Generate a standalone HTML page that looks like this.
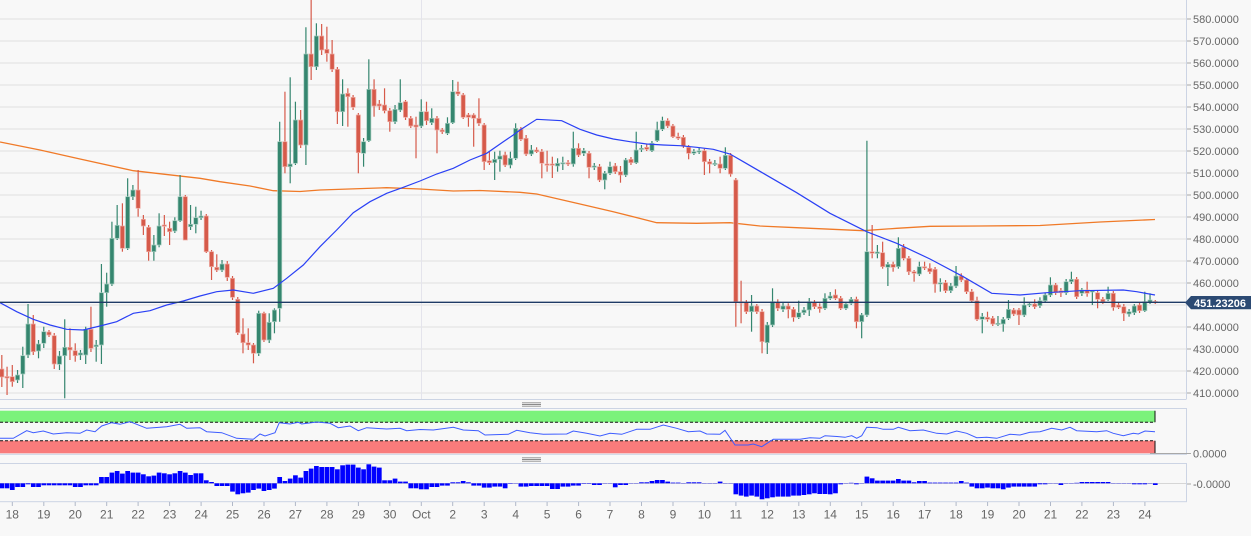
<!DOCTYPE html>
<html><head><meta charset="utf-8">
<style>
html,body{margin:0;padding:0;background:#f8f8f8;width:1251px;height:536px;overflow:hidden}
svg{display:block}
text{font-family:"Liberation Sans",sans-serif}
</style></head><body>
<svg id="c" width="1251" height="536" viewBox="0 0 1251 536" xmlns="http://www.w3.org/2000/svg">
<rect width="1251" height="536" fill="#f8f8f8"/>
<g stroke="#e1e1e1" stroke-width="1">
<line x1="0" x2="1186" y1="19" y2="19"/><line x1="0" x2="1186" y1="41" y2="41"/><line x1="0" x2="1186" y1="63" y2="63"/><line x1="0" x2="1186" y1="85" y2="85"/><line x1="0" x2="1186" y1="107" y2="107"/><line x1="0" x2="1186" y1="129" y2="129"/><line x1="0" x2="1186" y1="151" y2="151"/><line x1="0" x2="1186" y1="173" y2="173"/><line x1="0" x2="1186" y1="195" y2="195"/><line x1="0" x2="1186" y1="217" y2="217"/><line x1="0" x2="1186" y1="239" y2="239"/><line x1="0" x2="1186" y1="261" y2="261"/><line x1="0" x2="1186" y1="283" y2="283"/><line x1="0" x2="1186" y1="305" y2="305"/><line x1="0" x2="1186" y1="327" y2="327"/><line x1="0" x2="1186" y1="349" y2="349"/><line x1="0" x2="1186" y1="371" y2="371"/><line x1="0" x2="1186" y1="393" y2="393"/>
</g>
<line x1="421.5" x2="421.5" y1="0" y2="399" stroke="#e4e4ec" stroke-width="1"/>
<!-- panel borders -->
<g stroke="#ccd4e4" stroke-width="1" fill="none">
<line x1="1186.5" x2="1186.5" y1="0" y2="399"/>
<line x1="0" x2="1186.5" y1="399.5" y2="399.5"/>
<rect x="-1" y="408.5" width="1187.5" height="45.8"/>
<rect x="-1" y="463.5" width="1187.5" height="38.2"/>
</g>
<!-- handles -->
<g stroke="#8a8a8a" stroke-width="0.9">
<line x1="522" x2="541" y1="402.8" y2="402.8"/><line x1="522" x2="541" y1="404.5" y2="404.5"/><line x1="522" x2="541" y1="406.2" y2="406.2"/>
<line x1="522" x2="541" y1="457.8" y2="457.8"/><line x1="522" x2="541" y1="459.5" y2="459.5"/><line x1="522" x2="541" y1="461.2" y2="461.2"/>
</g>
<!-- oscillator bands -->
<rect x="0" y="410.7" width="1155" height="11.6" fill="#7bf27b"/>
<rect x="0" y="440.7" width="1155" height="12.6" fill="#f97b7b"/>
<line x1="1155" x2="1155" y1="410.7" y2="422.3" stroke="#111" stroke-width="1"/>
<line x1="1155" x2="1155" y1="440.7" y2="453.3" stroke="#111" stroke-width="1"/>
<line x1="0" x2="1155" y1="422.3" y2="422.3" stroke="#111" stroke-width="1" stroke-dasharray="3,2"/>
<line x1="0" x2="1155" y1="440.7" y2="440.7" stroke="#111" stroke-width="1" stroke-dasharray="3,2"/>
<polyline fill="none" stroke="#3d5cff" stroke-width="1" points="0,438.3 13.3,438.3 26.7,430.7 33.3,432.7 43.3,431 53.3,434 66.7,432.7 80,433.3 86.7,430 95,431.7 101.7,426 111.7,422.7 120,424.3 130,421.7 146.7,428.3 166.7,426.7 180,424.3 186.7,428.3 200,427.7 206.7,431.7 221.7,432.7 236.7,438.3 253.3,439.3 260,434 265,436 275,432.7 279.3,422.7 290,424 298.3,422.3 301.7,424 316.7,422 330,423.3 338.3,427.7 350,426 358.3,430.7 366.7,427.7 386.7,429 400,428.3 406.7,430.7 420,429.5 433.3,430 453.3,427.3 463.3,430 478.3,430.7 485,435 508.3,434.3 516.7,430.3 530,432.7 543.3,434.3 566.7,434 573.3,431 586.7,433.3 600,436 610,433.3 621.7,434.3 636.7,429.3 650,429.3 663.3,425 676.7,428.3 688.3,431.7 700,431 706.7,434 720,434.3 725,430.3 735,445 748.3,445 753.3,444 761.7,446.7 773.3,439.3 800,439.3 810,437.7 820,438.3 825,435.7 837,436.5 845,437.3 851.7,435.7 856.7,438.3 861.7,435.7 866.7,427.3 876.7,427.7 883.3,429.3 893.3,429.3 898.3,427.3 910,430.7 923.3,430 936.7,433.3 946.7,434 956.7,431 966.7,433.3 976.7,437.7 986.7,437.3 996.7,438.3 1010,434.3 1020,435 1030,432.3 1040,431.7 1051.7,428.3 1061.7,430 1070,427.3 1076.7,430.7 1096.7,431.7 1106.7,430.7 1113.3,433.3 1123.3,435.7 1133.3,433.3 1138.3,434 1145,431 1155,431.7"/>
<!-- histogram baseline -->
<line x1="0" x2="1186" y1="483.5" y2="483.5" stroke="#d6d6d6" stroke-width="1"/>
<g id="hist"></g>
<!-- MAs -->
<polyline fill="none" stroke="#f07a28" stroke-width="1.3" points="0,142 40,150 80,159 133.3,170.7 200,178.3 220,181.7 250,186 273.3,190.7 300,191.5 320,190 386.7,187.7 420,189 453.3,191 480,190.5 520,192.3 536.7,194 580,204 613.3,211.7 656.7,222.7 696.7,223.3 730,222.7 760,226 796.7,227.7 863.3,230.7 896.7,228.3 930,226.3 980,226 1040,225.5 1100,222 1155,219.5"/>
<g id="candles"></g>
<polyline fill="none" stroke="#2a40f5" stroke-width="1.2" points="0,302.7 16.7,311.7 33.3,319.3 50,325 66.7,329.3 83.3,330 100,326 116.7,321.7 133.3,313.3 150,310.7 166.7,305 183.3,301 200,296 216.7,291.7 233.3,290 253.3,293.3 273.3,288.3 286.7,278.3 303.3,265 320,246.7 336.7,230 353.3,212.7 370,201.7 386.7,193.3 403.3,187.3 420,181 436.7,174 453.3,168.3 470,160 486.7,153.3 503.3,141.7 513.3,135 520,130 536.7,119.3 561.7,120.7 580,129.3 596.7,135 613.3,139 630,141.7 646.7,144 663.3,145 680,145.7 696.7,147.3 713.3,149.3 730,154 743.3,161.7 763.3,173.3 796.7,192.7 830,213.3 866.7,231.7 896.7,243.3 930,259 963.3,276.7 991.7,293.3 1020,295 1046.7,292.7 1080,290.7 1123.3,290 1136.7,291.7 1155,295"/>
<!-- current price line -->
<line x1="0" x2="1190" y1="302.3" y2="302.3" stroke="#1f3b66" stroke-width="1.4"/>
<path d="M1185,302.6 L1191,296 L1251,296 L1251,309.3 L1191,309.3 Z" fill="#2c4a73"/>
<text x="1194" y="306.8" font-size="11" font-weight="bold" fill="#ffffff">451.23206</text>
<!-- right axis ticks -->
<g stroke="#a8a8a8" stroke-width="1">
<line x1="1187" x2="1191" y1="19" y2="19"/><line x1="1187" x2="1191" y1="41" y2="41"/><line x1="1187" x2="1191" y1="63" y2="63"/><line x1="1187" x2="1191" y1="85" y2="85"/><line x1="1187" x2="1191" y1="107" y2="107"/><line x1="1187" x2="1191" y1="129" y2="129"/><line x1="1187" x2="1191" y1="151" y2="151"/><line x1="1187" x2="1191" y1="173" y2="173"/><line x1="1187" x2="1191" y1="195" y2="195"/><line x1="1187" x2="1191" y1="217" y2="217"/><line x1="1187" x2="1191" y1="239" y2="239"/><line x1="1187" x2="1191" y1="261" y2="261"/><line x1="1187" x2="1191" y1="283" y2="283"/><line x1="1187" x2="1191" y1="327" y2="327"/><line x1="1187" x2="1191" y1="349" y2="349"/><line x1="1187" x2="1191" y1="371" y2="371"/><line x1="1187" x2="1191" y1="393" y2="393"/>
<line x1="1150" x2="1191" y1="453.5" y2="453.5"/><line x1="1187" x2="1191" y1="484" y2="484"/>
</g>
<g font-size="11" fill="#666">
<text x="1193" y="23">580.0000</text><text x="1193" y="45">570.0000</text><text x="1193" y="67">560.0000</text><text x="1193" y="89">550.0000</text><text x="1193" y="111">540.0000</text><text x="1193" y="133">530.0000</text><text x="1193" y="155">520.0000</text><text x="1193" y="177">510.0000</text><text x="1193" y="199">500.0000</text><text x="1193" y="221">490.0000</text><text x="1193" y="243">480.0000</text><text x="1193" y="265">470.0000</text><text x="1193" y="287">460.0000</text><text x="1193" y="331">440.0000</text><text x="1193" y="353">430.0000</text><text x="1193" y="375">420.0000</text><text x="1193" y="397">410.0000</text>
<text x="1193" y="457.5">0.0000</text><text x="1193" y="488">-0.0000</text>
</g>
<!-- date ticks -->
<g id="dticks" stroke="#b0b8c8" stroke-width="1"></g>
<g font-size="12" fill="#666" text-anchor="middle">
<text x="12.3" y="518.5">18</text><text x="43.8" y="518.5">19</text><text x="75.2" y="518.5">20</text><text x="106.7" y="518.5">21</text><text x="138.1" y="518.5">22</text><text x="169.6" y="518.5">23</text><text x="201.1" y="518.5">24</text><text x="232.5" y="518.5">25</text><text x="264" y="518.5">26</text><text x="295.4" y="518.5">27</text><text x="326.9" y="518.5">28</text><text x="358.4" y="518.5">29</text><text x="389.8" y="518.5">30</text><text x="421.3" y="518.5">Oct</text><text x="452.7" y="518.5">2</text><text x="484.2" y="518.5">3</text><text x="515.7" y="518.5">4</text><text x="547.1" y="518.5">5</text><text x="578.6" y="518.5">6</text><text x="610" y="518.5">7</text><text x="641.5" y="518.5">8</text><text x="673" y="518.5">9</text><text x="704.4" y="518.5">10</text><text x="735.9" y="518.5">11</text><text x="767.3" y="518.5">12</text><text x="798.8" y="518.5">13</text><text x="830.3" y="518.5">14</text><text x="861.7" y="518.5">15</text><text x="893.2" y="518.5">16</text><text x="924.6" y="518.5">17</text><text x="956.1" y="518.5">18</text><text x="987.6" y="518.5">19</text><text x="1019" y="518.5">20</text><text x="1050.5" y="518.5">21</text><text x="1081.9" y="518.5">22</text><text x="1113.4" y="518.5">23</text><text x="1144.9" y="518.5">24</text>
</g>
</svg>
<script>
(function(){
var D="r,369,377,355,387|r,376.5,378,366.7,395|r,376.7,381.7,365,386.7|g,375,380,370,383|g,355.7,374,346.7,388|g,324,355,304,358|r,324,351.7,315,355|g,344,351,340,358.3|g,331.7,343.3,326.7,348|r,332,335,330,337|r,335.7,364,333,369|g,356,364.3,351,370|g,347.3,355.7,319.3,398.3|r,347.3,350,328.3,360|r,350.7,355.7,343.3,361.7|g,353,355,350,360|g,329.3,355,326.7,364|r,329.3,348.3,306.7,352|g,345,346.7,340,361.7|g,292.7,345,264,364|g,284,292.7,272.7,306.7|g,238.3,284,221.7,286|g,225.3,238.3,205,240|r,226,248.3,203.3,251.7|g,196.7,248.3,178.3,250|g,190,196.7,185,200|r,190,208.3,170,216.7|r,219.3,226,215,235|r,227.3,251.7,225,260.7|g,245,251.7,235,260.7|g,226,245,213.3,247.3|r,225,226.3,215,236|r,228.3,231.7,221.7,245|g,220.7,231,217.3,233|g,196.7,220.7,175,222|r,196.7,240,195,240|g,224.3,226.7,205,230|g,217.7,224.3,206.7,233.3|g,216,217.7,210.7,220|r,216,251.7,214,253|r,251.7,266.7,250,280|r,267.3,270,254.3,272|g,264,270,260,272|r,264,277.3,261,281|r,278.3,297.3,276,300|r,299.3,332.7,297,335|r,334,342.7,318.3,353.3|r,342.7,345,328.3,350|r,345,353.3,343,363.3|g,313.3,353.3,310.7,356|r,313.3,340,311.7,342|g,322.3,340,313.3,343|g,310,321.7,308.3,333.3|g,141.7,308.3,121.7,321.7|r,141.7,166.7,91.7,173.3|g,164,166.7,77.3,183.3|g,120,163.3,101.7,165|r,120,145,110,148|g,54,145,27.3,165|r,54,66.7,0,80|g,36,66.7,23.3,70|r,36,50,24,55|r,49.3,53.3,26.7,61.7|r,54,69.3,40,72|r,69.3,111.7,67,124|g,94,111.7,79.3,126|r,93.3,96.7,88.3,126.7|r,97.3,107.3,95,110|r,115,152.7,113,173.3|g,141.7,153.3,138,166.7|g,89.3,140.7,59.3,142|r,89.3,106,79.3,116.7|r,104,106,100,110|r,105,110.7,88.3,113.3|r,110.7,121.7,108,131.7|g,109.3,121.7,105,124|g,102.7,110,79.3,112|r,101.7,117.3,100,120|r,118.3,126,116,128|r,125,127,116.7,158.3|g,111.7,126,99.3,128|r,111.7,120.7,101.7,125|g,118.3,122.7,108.3,125|r,118.3,130,116,153.3|r,130,131.7,128,134|g,123.3,133.3,117.3,135|g,91.7,122.7,80,124|r,91.7,94,81.7,96|r,95,117.3,93,119|r,115,117.3,113,126.7|r,115,118.3,113.3,146.7|r,118.3,123.3,98.3,126|r,125,161.7,123,170|r,160.7,162.7,151.7,165|g,159.3,162.7,151.7,180|g,156,159.3,150.7,171.7|r,155,165,151.7,167|g,158.3,165,151.7,168.3|g,128.3,158.3,123.3,160|r,129.3,139.3,127,141|r,138.3,154,135,156|g,150,154,145,156|r,150,151.7,147.3,153|r,151.7,163.3,149,178.3|r,164,165.3,150.7,171.7|r,164,165.3,156.7,178|g,163.3,166,158.3,171.7|g,162.7,163.7,156.7,170|r,162.7,164,160,166|g,148.3,164,131.7,166.7|r,148.3,155,143.3,157|g,150.7,153.3,148,156|r,153.3,167.3,151,178.3|g,166,167.3,163,170|r,166.7,180,164,182|g,173.3,180,171,189.3|g,166.7,173.3,161.7,175|r,166,171.7,163,174|r,171.7,175,166,182.7|g,160,175,158,177|r,159.3,162.7,157,165|g,150,162.7,131.7,164|g,148.3,149.3,145,152|r,147.3,149.3,144,151|g,143.3,150.7,141,152|g,130,140.7,121.7,142|g,120.7,129.3,116.7,131|r,120.7,126,118.3,128|r,126,136.7,124,138|r,136.7,138.3,132.7,140|r,137.3,146,135,148|r,147.3,153.3,145,159.3|g,151.7,153.3,149,155|g,150.7,152,148,154|r,150.7,161.7,148.7,175|r,161.7,164,159,173.3|g,163.3,164.3,160,166|r,164,168.3,156.7,173.3|g,155.3,168.3,147.3,170|r,155.3,174,153,176.7|r,180,301.7,178,326.7|r,301.7,303,280.7,323.3|r,302.3,311.7,300,314|g,306,311.7,295,331.7|r,306,311.7,304,314|r,311.7,341.7,309,353.3|g,325,342.7,322,354|g,301.7,325,288.3,327|r,302.7,308.3,299.3,311|g,306,309.3,303,312|r,306,309.3,303.3,318.3|r,309.3,317.3,307,321.7|g,312.7,317.3,300.7,319|g,310,312.7,307,315|g,301.7,310,298,316|r,302.7,306.7,300,309|r,306.7,308.7,303.3,312.7|g,298.3,308.3,293.3,310|g,296,298.3,292,300|r,295,298.3,289.3,300|r,298.3,308.3,296,310|g,304,308.3,302,310|g,299.3,303.3,297,305|r,299.3,321.7,296.7,328.3|g,315,321.7,313,338.3|g,251.7,315,140.7,317|r,251.7,253.3,225,258.3|g,252,253.5,245,258.3|r,252.7,266.7,241.7,268.7|g,264.3,267.3,262,286|r,264.3,267.3,261.7,271.7|g,248.3,266.7,237.3,268.7|r,247.3,258.3,244,260.3|r,258.3,271.7,256,275|r,271.7,273.3,270,281.7|g,266.7,274,261.7,276|r,266.7,268,261.7,270|r,268.3,271.7,263.3,274|r,269.3,284,267,292.7|g,282.7,284,278.3,291.7|r,282.7,290.7,280,293|g,286,290.7,283,293|g,276,286,266,288|r,276,280,273.3,282|r,280,291.7,278,294|r,291.7,300.7,289,303|r,300.7,319.3,296.7,321|g,316.7,319.3,313,333.3|r,317.3,319.3,311.7,321.7|r,318.3,324,316,326|g,323.3,324,316,326|g,319.3,324,317,331.7|g,309.3,318.3,300,320|r,310,314,308,316|r,310,315,308,325|g,305,315,297.3,317|g,304,305,302,307|r,304,306.7,299.3,309|g,300.7,305.7,297.3,308|g,295,300.7,293,302.7|g,285,295,277.3,297|r,285,292.7,283,295|r,290.7,292.7,288,297|g,281.7,292.7,279,295|g,279.3,281.7,271.7,284|r,279.3,296.7,277,299|g,290,293.3,288,296|r,290,293.3,281.7,296.7|g,290.7,292,290,305|r,292.7,299.3,290,308.3|r,299.3,301.7,297,304|g,293.3,299.3,286.7,301|r,293.3,307.3,291,310.7|r,305,307.3,303,309|r,306.7,313.3,304,321|g,311.7,314,309,316.7|g,306,312.7,304,315|r,305,310.7,303,313|g,301.7,310.7,291.7,312|g,300,302,293.3,304|r,301.5,302.5,300,304".split("|");
var H=[-5,-5,-6.7,-3.7,-3.7,-1,-3.7,-3.7,-2,-2,-2,-2,-2,-2,-3.7,-3.7,-2,-2,-2,6.3,6.3,10.7,12.3,9.7,12.3,10.7,10.7,9,7,7.7,10.7,10,9,10,12.3,10.7,8.3,10,10,3,1.3,-2.7,-2.7,-2.7,-8.3,-11,-10,-9.3,-6.7,-5.3,-7.7,-6.7,-5.3,6.3,2.3,4.7,8,5.7,12.3,14.7,17.3,16.3,16.3,16.3,14,18,18.7,18.7,15.7,14,19,16.7,15.7,3,3,4.7,1.7,1.7,-5,-5,-6,-6,-3.7,-3.7,-2.3,-2.3,1,1,2.3,1,-2.3,-2.3,-4.3,-4.3,-3.3,-3.3,-5,-0.5,-0.3,-3.3,-3.3,-2.7,-2.7,-2.7,-2.7,-5.7,-5.7,-3.3,-3.3,-2.3,-2.3,-0.5,-0.5,-1.7,-1.7,-0.3,-0.3,-4,-1.7,-1.7,0.3,0.3,1,1,2.3,3.3,3.3,1.7,0.7,0.7,0.3,1,1,1,0.3,0.3,0.3,1.7,0.3,0.3,-11,-12.3,-13.3,-12.3,-13.3,-16,-15,-14,-13.3,-13.3,-13.3,-12.3,-12.3,-11.7,-11,-10,-10.7,-10.7,-11,-10,-1,-0.3,0.5,-1,-0.3,6.7,5,2.7,2.7,2.7,2.7,4.3,2.7,2.7,1,2.3,2.3,0.7,0.7,0.7,0.7,0.7,0.7,2.3,0.7,-3.3,-5,-5,-4.3,-5,-5,-6,-4.3,-3.3,-3.3,-3.3,-3.3,-3.3,-1,-1,-0.3,-0.3,-1.7,0.3,0.3,0.5,1.3,1.3,1.3,1.3,1.3,1.3,0.3,0.3,-0.3,-0.3,-1,-1,-1,-0.3,-1.7];
var s="",h="",i,k,x,d,g,col,lc,bt,bb,wt,wb,bh,v,base=483.3;
for(i=0;i<D.length;i++){
 k=i-2; x=12.3+5.243*k; d=D[i].split(",");
 g=d[0]==="g"; col=g?"#35866f":"#d65a4a"; lc=g?"#a6cdbf":"#eeaca4";
 bt=+d[1]; bb=+d[2]; wt=+d[3]; wb=+d[4]; bh=Math.max(bb-bt,1.2);
 s+='<line x1="'+x.toFixed(2)+'" x2="'+x.toFixed(2)+'" y1="'+wt+'" y2="'+wb+'" stroke="'+col+'" stroke-width="1.2"/>';
 s+='<rect x="'+(x-2.1).toFixed(2)+'" y="'+bt+'" width="4.2" height="'+bh.toFixed(2)+'" fill="'+col+'" stroke="'+lc+'" stroke-width="0.7"/>';
 v=(i<H.length)?H[i]:0;
 if(Math.abs(v)>0.2){
  h+='<rect x="'+(x-2.35).toFixed(2)+'" y="'+(v>0?base-v:base).toFixed(2)+'" width="4.7" height="'+Math.abs(v).toFixed(2)+'" fill="#0000ff"/>';
 }
}
document.getElementById("candles").innerHTML=s;
document.getElementById("hist").innerHTML=h;
var t="";
for(i=0;i<37;i++){x=12.3+31.46*i;t+='<line x1="'+x.toFixed(1)+'" x2="'+x.toFixed(1)+'" y1="502" y2="506"/>';}
document.getElementById("dticks").innerHTML=t;
})();
</script>
</body></html>
